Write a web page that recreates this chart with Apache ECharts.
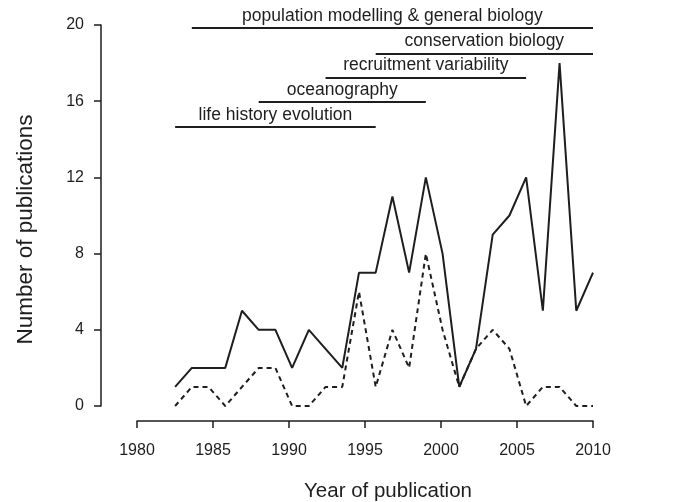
<!DOCTYPE html>
<html>
<head>
<meta charset="utf-8">
<script src="https://cdn.jsdelivr.net/npm/echarts@6/dist/echarts.min.js"></script>
<style>
  html, body { margin: 0; padding: 0; background: #fff; }
  #main { width: 677px; height: 502px; }
</style>
</head>
<body>
<div id="main"></div>
<script>
// years and publication counts
var years = [1982, 1983, 1984, 1985, 1986, 1987, 1988, 1989, 1990, 1991, 1992, 1993, 1994,
             1995, 1996, 1997, 1998, 1999, 2000, 2001, 2002, 2003, 2004, 2005, 2006, 2007];
var totalPubs = [1, 2, 2, 2, 5, 4, 4, 2, 4, 3, 2, 7, 7, 11, 7, 12, 8, 1, 3, 9, 10, 12, 5, 18, 5, 7];
var subsetPubs = [0, 1, 1, 0, 1, 2, 2, 0, 0, 1, 1, 6, 1, 4, 2, 8, 4, 1, 3, 4, 3, 0, 1, 1, 0, 0];

// research topics shown as horizontal bars
var topicNames = ['life history evolution', 'oceanography', 'recruitment variability',
                  'conservation biology', 'population modelling & general biology'];
var topicStart = [1982, 1987, 1991, 1994, 1983];
var topicEnd = [1994, 1997, 2003, 2007, 2007];
var topicLevel = [14.65, 15.95, 17.25, 18.5, 19.85];

var yTicks = [0, 4, 8, 12, 16, 20];

var ink = '#1e1e1e';
var font = '"Liberation Sans", Arial, Helvetica, sans-serif';

function pairs(xs, ys) {
    var out = [];
    for (var i = 0; i < xs.length; i++) out.push([xs[i], ys[i]]);
    return out;
}

var topicLines = [];
for (var i = 0; i < topicNames.length; i++) {
    topicLines.push([
        {name: topicNames[i], coord: [topicStart[i], topicLevel[i]]},
        {coord: [topicEnd[i], topicLevel[i]]}
    ]);
}

var chart = echarts.init(document.getElementById('main'));

var option = {
    animation: false,
    backgroundColor: '#fff',
    textStyle: {fontFamily: font},
    grid: {left: 137, right: 84, top: 25, bottom: 96, containLabel: false, outerBoundsMode: 'none'},
    xAxis: [
        {
            // visible year axis
            type: 'value',
            position: 'bottom',
            min: 1980,
            max: 2010,
            interval: 5,
            offset: 15,
            name: 'Year of publication',
            nameLocation: 'middle',
            nameGap: 60,
            // title sits a little right of the axis centre
            nameTextStyle: {fontSize: 20.5, color: ink, fontFamily: font, padding: [0, 0, 0, 46]},
            axisLine: {show: true, onZero: false, lineStyle: {color: ink, width: 1.5}},
            axisTick: {show: true, length: 7, lineStyle: {color: ink, width: 1.5}},
            axisLabel: {
                fontSize: 16, color: ink, margin: 22, fontFamily: font,
                formatter: function (v) { return String(v); }
            },
            splitLine: {show: false}
        },
        {
            // axis that positions the data
            type: 'value',
            position: 'top',
            min: 1979.72,
            max: 2007,
            show: false,
            splitLine: {show: false}
        }
    ],
    yAxis: {
        type: 'value',
        min: 0,
        max: 20,
        interval: 4,
        offset: 36,
        name: 'Number of publications',
        nameLocation: 'middle',
        nameGap: 64,
        // title sits a little below the axis centre
        nameTextStyle: {fontSize: 22.5, color: ink, fontFamily: font, padding: [0, 28, 0, 0]},
        axisLine: {show: true, onZero: false, lineStyle: {color: ink, width: 1.5}},
        axisTick: {show: true, length: 7, lineStyle: {color: ink, width: 1.5}},
        axisLabel: {
            fontSize: 16, color: ink, margin: 17, fontFamily: font,
            formatter: function (v) { return yTicks.indexOf(v) >= 0 ? String(v) : ''; }
        },
        splitLine: {show: false}
    },
    series: [
        {
            name: 'all',
            type: 'line',
            xAxisIndex: 1,
            data: pairs(years, totalPubs),
            symbol: 'none',
            lineStyle: {color: ink, width: 2},
            silent: true,
            markLine: {
                silent: true,
                symbol: ['none', 'none'],
                lineStyle: {color: ink, width: 2, type: 'solid'},
                label: {
                    show: true,
                    position: 'insideMiddleTop',
                    distance: 3,
                    formatter: '{b}',
                    fontSize: 17.5,
                    color: ink,
                    fontFamily: font
                },
                emphasis: {disabled: true},
                data: topicLines
            }
        },
        {
            name: 'subset',
            type: 'line',
            xAxisIndex: 1,
            data: pairs(years, subsetPubs),
            symbol: 'none',
            lineStyle: {color: ink, width: 2, type: [5, 4]},
            silent: true
        }
    ]
};

chart.setOption(option);
</script>
</body>
</html>
